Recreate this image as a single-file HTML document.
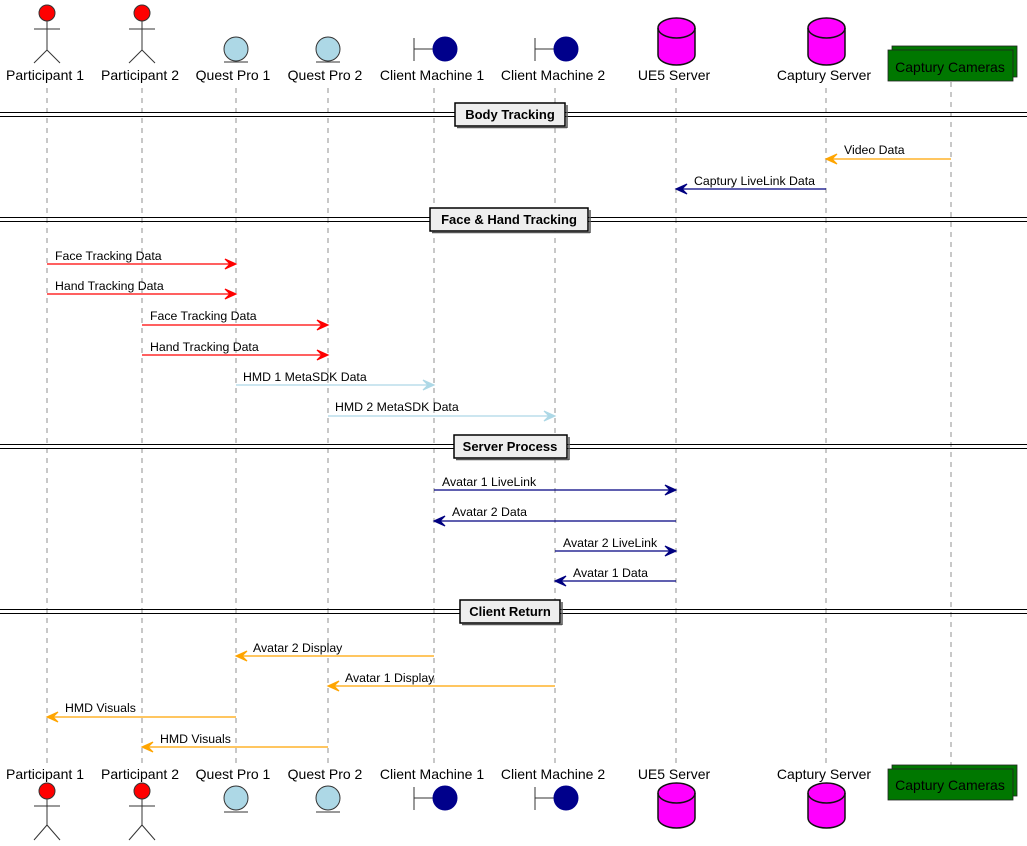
<!DOCTYPE html>
<html><head><meta charset="utf-8"><style>
html,body{margin:0;padding:0;background:#fff;}
svg{display:block;font-family:"Liberation Sans",sans-serif;}
.pl{font-size:14px;text-anchor:middle;fill:#000;}
.m{font-size:12.3px;fill:#000;}
.d{font-size:13px;font-weight:bold;text-anchor:middle;}
</style></head><body>
<svg width="1027" height="846" viewBox="0 0 1027 846" xmlns="http://www.w3.org/2000/svg">
<g stroke="#777" stroke-width="0.8" stroke-dasharray="5,5">
<line x1="47" y1="88" x2="47" y2="764"/><line x1="142" y1="88" x2="142" y2="764"/>
<line x1="236" y1="88" x2="236" y2="764"/><line x1="328" y1="88" x2="328" y2="764"/>
<line x1="434" y1="88" x2="434" y2="764"/><line x1="555" y1="88" x2="555" y2="764"/>
<line x1="676" y1="88" x2="676" y2="764"/><line x1="826" y1="88" x2="826" y2="764"/>
<line x1="951" y1="82" x2="951" y2="766"/>
</g>
<!-- top participants -->
<g stroke="#333" stroke-width="1">
<circle cx="47" cy="13" r="8" fill="#f00"/><line x1="47" y1="21" x2="47" y2="50" fill="none"/><line x1="34" y1="29" x2="60" y2="29"/><line x1="47" y1="50" x2="34" y2="63"/><line x1="47" y1="50" x2="60" y2="63"/>
<circle cx="142" cy="13" r="8" fill="#f00"/><line x1="142" y1="21" x2="142" y2="50"/><line x1="129" y1="29" x2="155" y2="29"/><line x1="142" y1="50" x2="129" y2="63"/><line x1="142" y1="50" x2="155" y2="63"/>
<circle cx="236" cy="49" r="12" fill="#ADD8E6"/><line x1="224" y1="62" x2="248" y2="62"/>
<circle cx="328" cy="49" r="12" fill="#ADD8E6"/><line x1="316" y1="62" x2="340" y2="62"/>
<line x1="414" y1="38" x2="414" y2="61"/><line x1="414" y1="49" x2="433" y2="49"/><circle cx="445" cy="49" r="12" fill="#00008B" stroke="#00008B"/>
<line x1="535" y1="38" x2="535" y2="61"/><line x1="535" y1="49" x2="554" y2="49"/><circle cx="566" cy="49" r="12" fill="#00008B" stroke="#00008B"/>
</g>
<g stroke="#111" stroke-width="1.5" fill="#f0f">
<path d="M658,28 A18.5,10 0 0 1 695,28 L695,55 A18.5,10 0 0 1 658,55 Z"/><path d="M658,28 A18.5,10 0 0 0 695,28" fill="none"/>
<path d="M808,28 A18.5,10 0 0 1 845,28 L845,55 A18.5,10 0 0 1 808,55 Z"/><path d="M808,28 A18.5,10 0 0 0 845,28" fill="none"/>
</g>
<rect x="892" y="46" width="125" height="31" fill="#007700" stroke="#222" stroke-width="0.8"/>
<rect x="888" y="50" width="125" height="31" fill="#007700" stroke="#222" stroke-width="0.8"/>
<text class="pl" x="950" y="72">Captury Cameras</text>
<text class="pl" x="45" y="80" textLength="78">Participant 1</text><text class="pl" x="140" y="80" textLength="78">Participant 2</text>
<text class="pl" x="233" y="80">Quest Pro 1</text><text class="pl" x="325" y="80">Quest Pro 2</text>
<text class="pl" x="432" y="80">Client Machine 1</text><text class="pl" x="553" y="80">Client Machine 2</text>
<text class="pl" x="674" y="80">UE5 Server</text><text class="pl" x="824" y="80">Captury Server</text>
<!-- bottom participants -->
<text class="pl" x="45" y="779" textLength="78">Participant 1</text><text class="pl" x="140" y="779" textLength="78">Participant 2</text>
<text class="pl" x="233" y="779">Quest Pro 1</text><text class="pl" x="325" y="779">Quest Pro 2</text>
<text class="pl" x="432" y="779">Client Machine 1</text><text class="pl" x="553" y="779">Client Machine 2</text>
<text class="pl" x="674" y="779">UE5 Server</text><text class="pl" x="824" y="779">Captury Server</text>
<g stroke="#333" stroke-width="1">
<circle cx="47" cy="791" r="8" fill="#f00"/><line x1="47" y1="799" x2="47" y2="825"/><line x1="34" y1="806" x2="60" y2="806"/><line x1="47" y1="825" x2="34" y2="840"/><line x1="47" y1="825" x2="60" y2="840"/>
<circle cx="142" cy="791" r="8" fill="#f00"/><line x1="142" y1="799" x2="142" y2="825"/><line x1="129" y1="806" x2="155" y2="806"/><line x1="142" y1="825" x2="129" y2="840"/><line x1="142" y1="825" x2="155" y2="840"/>
<circle cx="236" cy="798" r="12" fill="#ADD8E6"/><line x1="224" y1="812" x2="248" y2="812"/>
<circle cx="328" cy="798" r="12" fill="#ADD8E6"/><line x1="316" y1="812" x2="340" y2="812"/>
<line x1="414" y1="787" x2="414" y2="810"/><line x1="414" y1="798" x2="433" y2="798"/><circle cx="445" cy="798" r="12" fill="#00008B" stroke="#00008B"/>
<line x1="535" y1="787" x2="535" y2="810"/><line x1="535" y1="798" x2="554" y2="798"/><circle cx="566" cy="798" r="12" fill="#00008B" stroke="#00008B"/>
</g>
<g stroke="#111" stroke-width="1.5" fill="#f0f">
<path d="M658,793 A18.5,10 0 0 1 695,793 L695,818 A18.5,10 0 0 1 658,818 Z"/><path d="M658,793 A18.5,10 0 0 0 695,793" fill="none"/>
<path d="M808,793 A18.5,10 0 0 1 845,793 L845,818 A18.5,10 0 0 1 808,818 Z"/><path d="M808,793 A18.5,10 0 0 0 845,793" fill="none"/>
</g>
<rect x="892" y="765" width="125" height="31" fill="#007700" stroke="#222" stroke-width="0.8"/>
<rect x="888" y="769" width="125" height="31" fill="#007700" stroke="#222" stroke-width="0.8"/>
<text class="pl" x="950" y="790">Captury Cameras</text>
<!-- dividers -->
<g stroke="#000" stroke-width="1">
<line x1="0" y1="112.5" x2="1027" y2="112.5"/><line x1="0" y1="116.5" x2="1027" y2="116.5"/>
<line x1="0" y1="217.5" x2="1027" y2="217.5"/><line x1="0" y1="221.5" x2="1027" y2="221.5"/>
<line x1="0" y1="444.5" x2="1027" y2="444.5"/><line x1="0" y1="448.5" x2="1027" y2="448.5"/>
<line x1="0" y1="609.5" x2="1027" y2="609.5"/><line x1="0" y1="613.5" x2="1027" y2="613.5"/>
</g>
<g fill="#EEEEEE" stroke="#000" stroke-width="1.5">
<rect x="455" y="103" width="110" height="23"/><rect x="430" y="208" width="158" height="23"/>
<rect x="454" y="435" width="113" height="23"/><rect x="460" y="600" width="100" height="23"/>
</g>
<g stroke="#555" stroke-width="1.5"><line x1="567" y1="105" x2="567" y2="128"/><line x1="457" y1="127.5" x2="567" y2="127.5"/>
<line x1="590" y1="210" x2="590" y2="233"/><line x1="432" y1="232.5" x2="590" y2="232.5"/>
<line x1="569" y1="437" x2="569" y2="460"/><line x1="456" y1="459.5" x2="569" y2="459.5"/>
<line x1="562" y1="602" x2="562" y2="625"/><line x1="462" y1="624.5" x2="562" y2="624.5"/></g>
<text class="d" x="510" y="119">Body Tracking</text>
<text class="d" x="509" y="224">Face &amp; Hand Tracking</text>
<text class="d" x="510" y="451">Server Process</text>
<text class="d" x="510" y="616">Client Return</text>
<!-- messages -->
<g stroke-width="1.2">
<g stroke="#FFA500" fill="#FFA500"><line x1="951" y1="159" x2="828" y2="159"/><polygon points="837,154 826,159 837,164 832,159"/></g>
<g stroke="#000080" fill="#000080"><line x1="826" y1="189" x2="678" y2="189"/><polygon points="687,184 676,189 687,194 682,189"/></g>
<g stroke="#f00" fill="#f00">
<line x1="47" y1="264" x2="234" y2="264"/><polygon points="225,259 236,264 225,269 230,264"/>
<line x1="47" y1="294" x2="234" y2="294"/><polygon points="225,289 236,294 225,299 230,294"/>
<line x1="142" y1="325" x2="326" y2="325"/><polygon points="317,320 328,325 317,330 322,325"/>
<line x1="142" y1="355" x2="326" y2="355"/><polygon points="317,350 328,355 317,360 322,355"/></g>
<g stroke="#ADD8E6" fill="#ADD8E6">
<line x1="236" y1="385" x2="432" y2="385"/><polygon points="423,380 434,385 423,390 428,385"/>
<line x1="328" y1="416" x2="553" y2="416"/><polygon points="544,411 555,416 544,421 549,416"/></g>
<g stroke="#000080" fill="#000080">
<line x1="434" y1="490" x2="674" y2="490"/><polygon points="665,485 676,490 665,495 670,490"/>
<line x1="676" y1="521" x2="436" y2="521"/><polygon points="445,516 434,521 445,526 440,521"/>
<line x1="555" y1="551" x2="674" y2="551"/><polygon points="665,546 676,551 665,556 670,551"/>
<line x1="676" y1="581" x2="557" y2="581"/><polygon points="566,576 555,581 566,586 561,581"/></g>
<g stroke="#FFA500" fill="#FFA500">
<line x1="434" y1="656" x2="238" y2="656"/><polygon points="247,651 236,656 247,661 242,656"/>
<line x1="555" y1="686" x2="330" y2="686"/><polygon points="339,681 328,686 339,691 334,686"/>
<line x1="236" y1="717" x2="49" y2="717"/><polygon points="58,712 47,717 58,722 53,717"/>
<line x1="328" y1="747" x2="144" y2="747"/><polygon points="153,742 142,747 153,752 148,747"/></g>
</g>
<text class="m" x="844" y="154">Video Data</text>
<text class="m" x="694" y="185">Captury LiveLink Data</text>
<text class="m" x="55" y="260">Face Tracking Data</text>
<text class="m" x="55" y="290">Hand Tracking Data</text>
<text class="m" x="150" y="320">Face Tracking Data</text>
<text class="m" x="150" y="351">Hand Tracking Data</text>
<text class="m" x="243" y="381">HMD 1 MetaSDK Data</text>
<text class="m" x="335" y="411">HMD 2 MetaSDK Data</text>
<text class="m" x="442" y="486">Avatar 1 LiveLink</text>
<text class="m" x="452" y="516">Avatar 2 Data</text>
<text class="m" x="563" y="547">Avatar 2 LiveLink</text>
<text class="m" x="573" y="577">Avatar 1 Data</text>
<text class="m" x="253" y="652">Avatar 2 Display</text>
<text class="m" x="345" y="682">Avatar 1 Display</text>
<text class="m" x="65" y="712">HMD Visuals</text>
<text class="m" x="160" y="743">HMD Visuals</text>
</svg>
</body></html>
